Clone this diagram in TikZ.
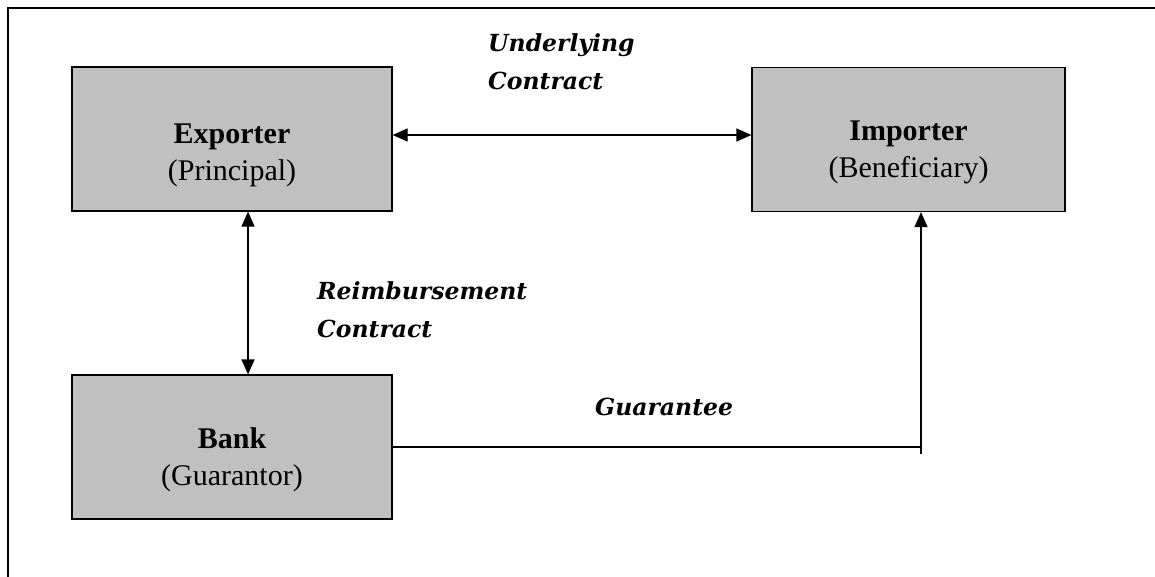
\documentclass[tikz,border=0pt]{standalone}
\usepackage{fontspec}
\setmainfont{Liberation Serif}
\newfontfamily\linkfont{DejaVu Serif}
\usetikzlibrary{positioning,arrows.meta}
\definecolor{boxgray}{HTML}{C0C0C0}
\tikzset{%
party/.style={draw,fill=boxgray,rectangle,line width=1.2pt,minimum height=144pt,inner sep=0},
partytext/.style={align=center,inner sep=0,font=\fontsize{30}{37}\selectfont},
linklabel/.style={align=left,anchor=north west,inner sep=0,font=\linkfont\bfseries\itshape\fontsize{23.5}{38}\selectfont},
link/.style={line width=1.2pt},
twoway/.style={link,{Triangle[length=15pt,width=13pt]}-{Triangle[length=15pt,width=13pt]}},
oneway/.style={link,-{Triangle[length=15pt,width=13pt]}}
}

\begin{document}
\begin{tikzpicture}[x=1pt,y=-1pt]
  \useasboundingbox (0,0) rectangle (1155,577);

  % open frame
  \draw[line width=1.6pt] (8,577) -- (8,8) -- (1155,8);

  \node[party,minimum width=320pt] (exp) at (232,139) {};
  \node[party,minimum width=313pt] (imp) at (908.5,139.5) {};
  \node[party,minimum width=320pt] (bank) at (232,447) {};

  \node[partytext] (exptext) at ([yshift=-16pt]exp.center) {\textbf{Exporter}\\(Principal)};
  \node[partytext] (imptext) at ([yshift=-13pt]imp.center) {\textbf{Importer}\\(Beneficiary)};
  \node[partytext] (banktext) at ([yshift=-13pt]bank.center) {\textbf{Bank}\\(Guarantor)};

  \coordinate (under) at (0,135);
  \coordinate (reimb) at (248,0);
  \coordinate (gfoot) at (921,454);

  \draw[twoway] (exp.east |- under) -- (imp.west |- under);
  \draw[twoway] (exp.south -| reimb) -- (bank.north -| reimb);
  \draw[link] (bank.east) -- (bank.east -| gfoot);
  \draw[oneway] (gfoot) -- (imp.south -| gfoot);

  \node[linklabel] (underlbl) at (488,33) {Underlying\\Contract};
  \node[linklabel] (reimblbl) at (317,281) {Reimbursement\\Contract};
  \node[linklabel] (guarlbl) at (595,398) {Guarantee};

\end{tikzpicture}
\end{document}
